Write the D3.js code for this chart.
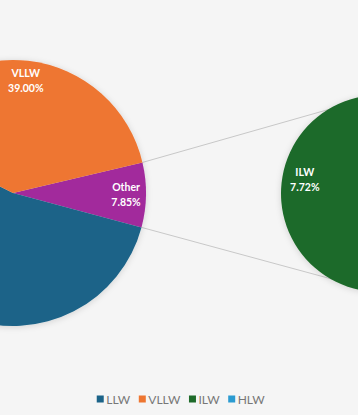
<!DOCTYPE html>
<html><head><meta charset="utf-8">
<script src="https://cdn.jsdelivr.net/npm/d3@7"></script>
<style>html,body{margin:0;padding:0;background:#f5f5f5;}svg{display:block;}</style>
</head><body><svg id="c" width="358" height="415"></svg>
<script>
// Data
const mainCategories = ["Other", "LLW", "VLLW"];
const mainValues = [7.85, 53.15, 39.00];
const subCategories = ["HLW", "ILW"];
const subValues = [0.13, 7.72];
const legendLabels = ["LLW", "VLLW", "ILW", "HLW"];
const colors = {LLW:"#1b6388", VLLW:"#ee7631", Other:"#a22b9c", ILW:"#1e6b2a", HLW:"#2b9bd1"};

const W = 358, H = 415;
const svg = d3.select("#c");
svg.append("rect").attr("width", W).attr("height", H).attr("fill", "#f5f5f5");

const defs = svg.append("defs");
const f = defs.append("filter").attr("id","sh").attr("x","-20%").attr("y","-20%").attr("width","140%").attr("height","140%");
f.append("feDropShadow").attr("dx",0).attr("dy",1).attr("stdDeviation",3).attr("flood-color","#000").attr("flood-opacity",0.15);

const deg = Math.PI/180;
const main = {cx: 13, cy: 193, r: 133};
const sub = {cx: 379.5, cy: 193.5, r: 98.5};

const total = d3.sum(mainValues);
const otherAng = mainValues[0]/total*2*Math.PI;
const mainStart = Math.PI/2 - otherAng/2 + 0.85*deg;
const mainPie = d3.pie().sort(null).startAngle(mainStart).endAngle(mainStart + 2*Math.PI);
const mainArcs = mainPie(mainValues);

const subTotal = d3.sum(subValues);
const hlwAng = subValues[0]/subTotal*2*Math.PI;
const subStart = 100*deg - hlwAng/2;
const subPie = d3.pie().sort(null).startAngle(subStart).endAngle(subStart + 2*Math.PI);
const subArcs = subPie(subValues);

// connector lines
const oa = mainArcs[0];
const p1 = [main.cx + main.r*Math.sin(oa.startAngle), main.cy - main.r*Math.cos(oa.startAngle)];
const p2 = [main.cx + main.r*Math.sin(oa.endAngle), main.cy - main.r*Math.cos(oa.endAngle)];
const lines = [[p1, [sub.cx, sub.cy - sub.r]], [p2, [sub.cx, sub.cy + sub.r]]];
svg.append("g").selectAll("line").data(lines).join("line")
  .attr("x1", d=>d[0][0]).attr("y1", d=>d[0][1]).attr("x2", d=>d[1][0]).attr("y2", d=>d[1][1])
  .attr("stroke", "#c8c8c8").attr("stroke-width", 1);

const arcMain = d3.arc().innerRadius(0).outerRadius(main.r);
const gMain = svg.append("g").attr("transform", `translate(${main.cx},${main.cy})`).attr("filter","url(#sh)");
gMain.selectAll("path").data(mainArcs).join("path")
  .attr("d", arcMain).attr("fill", (d,i)=>colors[mainCategories[i]]);

const arcSub = d3.arc().innerRadius(0).outerRadius(sub.r);
const gSub = svg.append("g").attr("transform", `translate(${sub.cx},${sub.cy})`).attr("filter","url(#sh)");
gSub.selectAll("path").data(subArcs).join("path")
  .attr("d", arcSub).attr("fill", (d,i)=>colors[subCategories[i]]);

// labels (only those whose position lies inside the visible frame)
function labels(ox, oy, arcs, cats, vals, rr) {
  const la = d3.arc().innerRadius(rr).outerRadius(rr);
  const data = arcs.map((d,i)=>({c: la.centroid(d), cat: cats[i], v: vals[i]}))
    .filter(d => ox + d.c[0] - 18 > 0 && ox + d.c[0] + 18 < W);
  const g = svg.append("g").attr("transform", `translate(${ox},${oy})`);
  const t = g.selectAll("text").data(data).join("text")
    .attr("transform", d=>`translate(${d.c})`)
    .attr("text-anchor","middle").attr("fill","#fff")
    .style("font-family","Lato, 'Open Sans', sans-serif").style("font-weight","bold").style("font-size","10.5px");
  t.append("tspan").attr("x",0).attr("y",-4).text(d=>d.cat);
  t.append("tspan").attr("x",0).attr("y",11).text(d=>d.v.toFixed(2)+"%");
}
labels(main.cx, main.cy, mainArcs, mainCategories, mainValues, main.r*0.85);
labels(sub.cx, sub.cy, subArcs, subCategories, subValues, sub.r*0.77);

// legend
const lg = svg.append("g").attr("transform","translate(0,399)");
const items = lg.selectAll("g").data(legendLabels).join("g");
items.append("rect").attr("width",7).attr("height",7).attr("y",-3.5).attr("fill", d=>colors[d]);
items.append("text").attr("x",9.5).attr("y",4.5).text(d=>d)
  .attr("fill","#777").style("font-family","Lato, 'Open Sans', sans-serif").style("font-size","12px");
const widths = [];
items.each(function(){ widths.push(this.getBBox().width); });
const gap = 8;
const tw = d3.sum(widths) + gap*(widths.length-1);
let x = (W - tw)/2 + 2;
items.attr("transform", (d,i)=>{ const tx = x; x += widths[i] + gap; return `translate(${tx},0)`; });
</script></body></html>
